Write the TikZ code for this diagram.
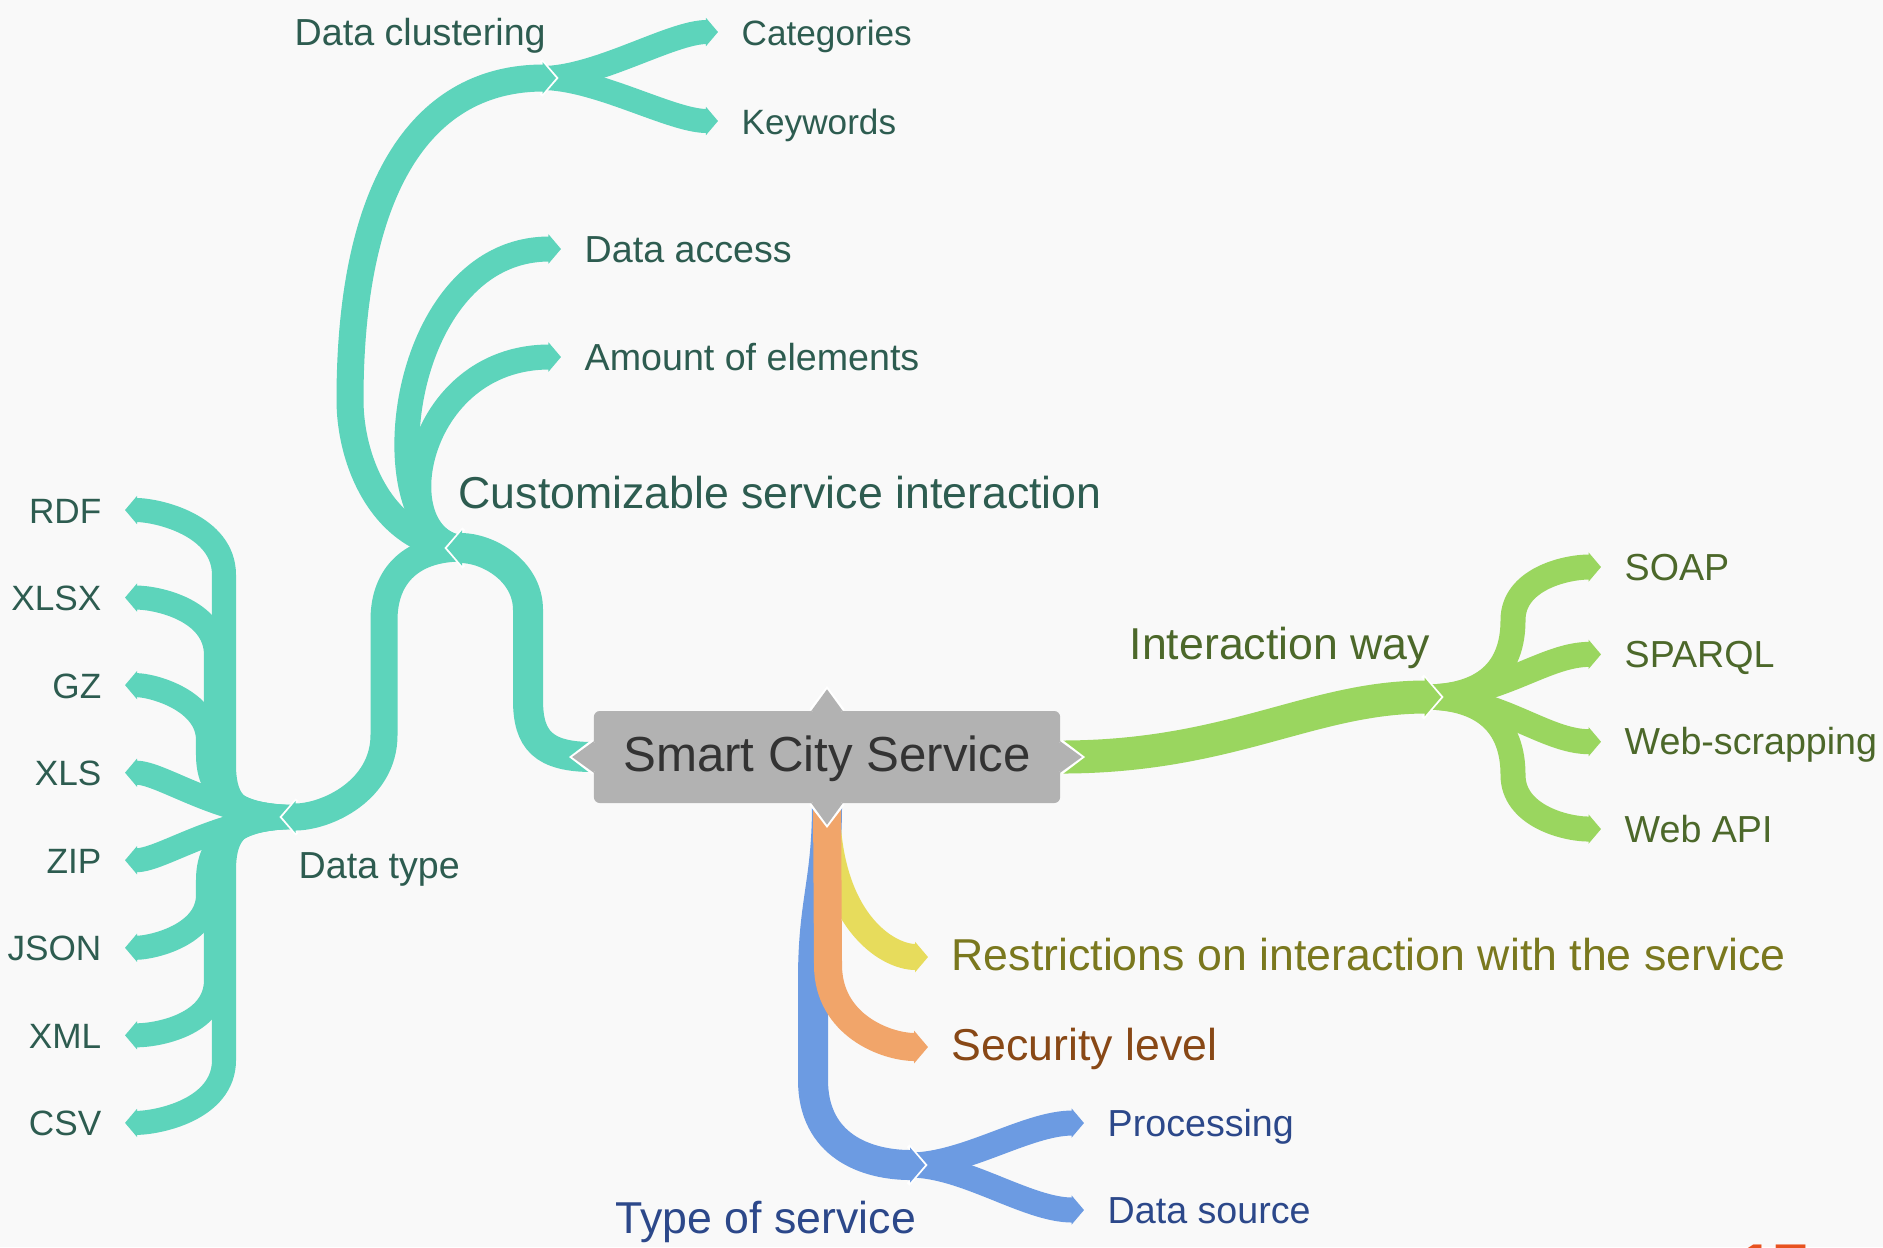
\documentclass[tikz,border=0pt]{standalone}
\usepackage{fontspec}
\setmainfont{Liberation Sans}
\usetikzlibrary{arrows.meta,positioning}

\definecolor{paper}{RGB}{249,249,249}
\definecolor{mint}{RGB}{93,212,187}
\definecolor{minttxt}{RGB}{45,92,80}
\definecolor{limeg}{RGB}{154,214,95}
\definecolor{limetxt}{RGB}{76,104,42}
\definecolor{sky}{RGB}{108,155,226}
\definecolor{skytxt}{RGB}{44,72,138}
\definecolor{sand}{RGB}{231,220,92}
\definecolor{sandtxt}{RGB}{122,120,30}
\definecolor{peach}{RGB}{241,165,106}
\definecolor{peachtxt}{RGB}{136,72,22}
\definecolor{hubgray}{RGB}{178,178,178}
\definecolor{hubtxt}{RGB}{51,51,51}
\definecolor{pagered}{RGB}{232,82,31}

\begin{document}
\begin{tikzpicture}[x=0.01cm, y=-0.01cm,
    rib/.style={line width=#1*0.2845pt, -{Triangle[length=0pt 0.5, width=0pt 1.15]}},
    leafrib/.style={rib=#1, shorten >=0.23cm},
    lab/.style={inner sep=0pt, text height=1.4ex, text depth=0pt, anchor=west},
    lvlone/.style={lab, text=#1, font=\fontsize{12.7pt}{15pt}\selectfont},
    lvltwo/.style={lab, text=#1, font=\fontsize{10.7pt}{13pt}\selectfont},
    lvlthree/.style={lab, text=#1, font=\fontsize{10pt}{12pt}\selectfont},
    fmt/.style={lvlthree=minttxt, anchor=east},
    hub/.style={fill=hubgray, rounded corners=1.7pt, minimum width=4.66cm, minimum height=0.92cm,
      inner sep=0pt, text height=1.6ex, text depth=0pt, text=hubtxt, font=\fontsize{14pt}{17pt}\selectfont},
    joint/.pic={\draw[white, line width=1.1pt] (-0.56*#1,-0.645*#1) -- (0,0) -- (-0.56*#1,0.645*#1);},
    hubtip/.pic={\draw[white, line width=1.1pt] (0,-16) -- (21,0) -- (0,16);
      \fill[hubgray] (-1,-16) -- (21,0) -- (-1,16) -- cycle;}]
  \fill[paper] (0,0) rectangle (1883,1247);
  \useasboundingbox (0,0) rectangle (1883,1247);

  \node[hub] (hub) at (827,757) {Smart City Service};

  % labels
  \node[lvltwo=minttxt] (clustering) at (294,32) {Data clustering};
  \node[lvlthree=minttxt] (categories) at (741,32) {Categories};
  \node[lvlthree=minttxt] (keywords) at (741,121) {Keywords};
  \node[lvltwo=minttxt] (access) at (584,249) {Data access};
  \node[lvltwo=minttxt] (amount) at (584,357) {Amount of elements};
  \node[lvlone=minttxt] (custom) at (458,495) {Customizable service interaction};
  \node[lvltwo=minttxt] (dtype) at (298,865) {Data type};
  \node[fmt] (rdf) at (102,510) {RDF};
  \node[fmt] (xlsx) at ([yshift=-0.875cm]rdf.east) {XLSX};
  \node[fmt] (gz) at ([yshift=-0.875cm]xlsx.east) {GZ};
  \node[fmt] (xls) at ([yshift=-0.875cm]gz.east) {XLS};
  \node[fmt] (zip) at ([yshift=-0.875cm]xls.east) {ZIP};
  \node[fmt] (json) at ([yshift=-0.875cm]zip.east) {JSON};
  \node[fmt] (xml) at ([yshift=-0.875cm]json.east) {XML};
  \node[fmt] (csv) at ([yshift=-0.875cm]xml.east) {CSV};

  \node[lvlone=limetxt] (way) at (1129,646) {Interaction way};
  \node[lvltwo=limetxt] (soap) at (1624,567) {SOAP};
  \node[lvltwo=limetxt] (sparql) at ([yshift=-0.873cm]soap.west) {SPARQL};
  \node[lvltwo=limetxt] (scrap) at ([yshift=-0.873cm]sparql.west) {Web-scrapping};
  \node[lvltwo=limetxt] (webapi) at ([yshift=-0.873cm]scrap.west) {Web API};

  \node[lvlone=sandtxt] (restrict) at (951,957) {Restrictions on interaction with the service};
  \node[lvlone=peachtxt] (security) at (951,1047) {Security level};
  \node[lvlone=skytxt] (kind) at (615,1220) {Type of service};
  \node[lvltwo=skytxt] (processing) at (1107,1123) {Processing};
  \node[lvltwo=skytxt] (source) at (1107,1210) {Data source};
  \node[anchor=north west, inner sep=0pt, text=pagered, font=\fontsize{18pt}{20pt}\bfseries] (pagenum) at (1738,1244) {17};

  \coordinate (j1) at (447,548);  \coordinate (j1b) at (462,548);
  \coordinate (j2) at (282,817);  \coordinate (j2b) at (296,817);
  \coordinate (j3) at (556,78);   \coordinate (j3b) at (542,78);
  \coordinate (j4) at (1441,697); \coordinate (j4b) at (1424,697);
  \coordinate (j5) at (925,1165); \coordinate (j5b) at (910,1165);

  % data formats
  \draw[leafrib=24, mint] (j2b) .. controls +(-45,0) and +(0,50) .. (224,765) -- (224,575) .. controls +(0,-50) and +(55,0) .. (rdf.east);
  \draw[leafrib=24, mint] (j2b) .. controls +(-50,0) and +(0,45) .. (216,760) -- (216,655) .. controls +(0,-45) and +(55,0) .. (xlsx.east);
  \draw[leafrib=24, mint] (j2b) .. controls +(-60,0) and +(0,40) .. (208,755) -- (208,740) .. controls +(0,-40) and +(50,0) .. (gz.east);
  \draw[leafrib=24, mint] (j2b) .. controls +(-75,0) and +(60,0) .. (xls.east);
  \draw[leafrib=24, mint] (j2b) .. controls +(-75,0) and +(60,0) .. (zip.east);
  \draw[leafrib=24, mint] (j2b) .. controls +(-60,0) and +(0,-40) .. (208,880) -- (208,895) .. controls +(0,40) and +(50,0) .. (json.east);
  \draw[leafrib=24, mint] (j2b) .. controls +(-50,0) and +(0,-45) .. (216,875) -- (216,980) .. controls +(0,45) and +(55,0) .. (xml.east);
  \draw[leafrib=24, mint] (j2b) .. controls +(-45,0) and +(0,-50) .. (224,870) -- (224,1060) .. controls +(0,50) and +(55,0) .. (csv.east);
  \pic[rotate=180] at (j2) {joint=27};
  \draw[rib=27, mint] (j1b) .. controls +(-50,0) and +(0,-45) .. (384,620) -- (384,735) .. controls +(0,55) and +(45,0) .. (j2);

  % clustering
  \draw[leafrib=24, mint] (j3b) .. controls +(55,0) and +(-70,0) .. (categories.west);
  \draw[leafrib=24, mint] (j3b) .. controls +(55,0) and +(-70,0) .. (keywords.west);
  \pic at (j3) {joint=27};
  \draw[rib=27, mint] (j1b) .. controls +(-80,-5) and +(0,60) .. (350,400) .. controls +(0,-220) and +(-130,0) .. (j3);
  \draw[leafrib=25, mint] (j1b) .. controls +(-95,-10) and +(-190,0) .. (access.west);
  \draw[leafrib=25, mint] (j1b) .. controls +(-80,-10) and +(-170,0) .. (amount.west);
  \pic[rotate=180] at (j1) {joint=30};
  \draw[rib=30, mint] (hub.west) .. controls +(-50,0) and +(0,40) .. (528,700) -- (528,610) .. controls +(0,-40) and +(40,0) .. (j1);

  % interaction way
  \draw[leafrib=25, limeg] (j4b) .. controls +(60,0) and +(0,50) .. (1513,620) .. controls +(0,-40) and +(-60,0) .. (soap.west);
  \draw[leafrib=25, limeg] (j4b) .. controls +(75,0) and +(-80,0) .. (sparql.west);
  \draw[leafrib=25, limeg] (j4b) .. controls +(75,0) and +(-80,0) .. (scrap.west);
  \draw[leafrib=25, limeg] (j4b) .. controls +(60,0) and +(0,-50) .. (1513,775) .. controls +(0,40) and +(-60,0) .. (webapi.west);
  \pic at (j4) {joint=33};
  \draw[rib=33, limeg] (hub.east) .. controls +(170,0) and +(-130,0) .. (j4);

  % service type, restrictions, security
  \draw[leafrib=25, sky] (j5b) .. controls +(55,0) and +(-80,0) .. (processing.west);
  \draw[leafrib=25, sky] (j5b) .. controls +(55,0) and +(-80,0) .. (source.west);
  \pic at (j5) {joint=30};
  \draw[rib=30, sky] (hub.south) .. controls +(0,80) and +(0,-80) .. (813,980) -- (813,1080) .. controls +(0,65) and +(-60,0) .. (j5);
  \draw[leafrib=26, sand] (hub.south) .. controls +(0,115) and +(-65,0) .. (restrict.west);
  \draw[leafrib=28, peach] (hub.south) -- (828,965) .. controls +(0,60) and +(-65,0) .. (security.west);

  \pic[rotate=90] at (hub.north) {hubtip};
  \pic[rotate=180] at (hub.west) {hubtip};
  \pic at (hub.east) {hubtip};
  \pic[rotate=-90] at (hub.south) {hubtip};
\end{tikzpicture}
\end{document}
